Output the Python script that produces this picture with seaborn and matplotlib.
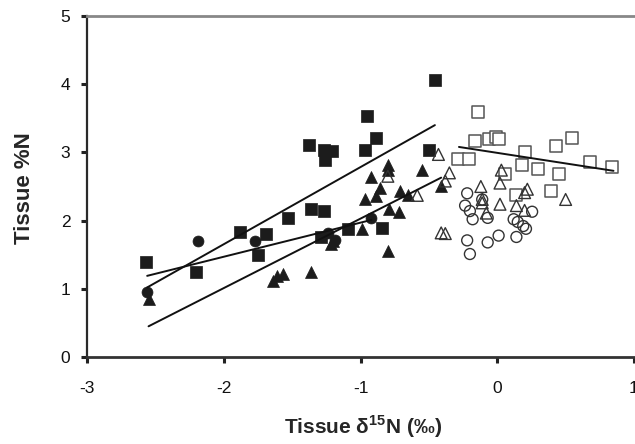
import matplotlib
matplotlib.use("Agg")
import matplotlib.pyplot as plt
import seaborn as sns
import pandas as pd

# Filled squares
sq_x = [-2.57, -2.20, -1.88, -1.75, -1.69, -1.53, -1.375, -1.365, -1.27, -1.27,
        -1.21, -1.26, -1.29, -1.09, -0.95, -0.965, -0.885, -0.84, -0.50, -0.456]
sq_y = [1.40, 1.25, 1.84, 1.50, 1.80, 2.04, 3.11, 2.17, 2.14, 3.04,
        3.02, 2.89, 1.76, 1.87, 3.54, 3.04, 3.21, 1.89, 3.03, 4.06]

# Filled triangles
tri_x = [-2.55, -1.64, -1.61, -1.57, -1.365, -1.215, -1.20, -0.99, -0.97, -0.80,
         -0.80, -0.92, -0.55, -0.855, -0.89, -0.71, -0.65, -0.79, -0.72, -0.41, -0.80]
tri_y = [0.85, 1.11, 1.19, 1.22, 1.24, 1.65, 1.70, 1.87, 2.32, 2.81,
         2.74, 2.64, 2.74, 2.48, 2.36, 2.43, 2.38, 2.17, 2.13, 2.51, 1.56]

# Filled circles
cir_x = [-2.56, -2.19, -1.77, -1.235, -1.19, -0.92]
cir_y = [0.95, 1.70, 1.70, 1.82, 1.72, 2.04]

# Open squares
osq_x = [-0.14, -0.16, -0.06, -0.01, 0.01, -0.29, -0.21, 0.06, 0.20, 0.18,
         0.30, 0.43, 0.55, 0.45, 0.39, 0.14, 0.68, 0.84]
osq_y = [3.59, 3.17, 3.20, 3.23, 3.19, 2.90, 2.90, 2.68, 3.00, 2.81,
         2.76, 3.09, 3.21, 2.68, 2.44, 2.37, 2.86, 2.78]

# Open triangles
otri_x = [-0.80, -0.585, -0.43, -0.35, -0.38, -0.41, -0.38, 0.03, 0.02, -0.12,
          0.22, 0.20, -0.11, -0.11, 0.02, -0.08, 0.14, 0.20, 0.50]
otri_y = [2.65, 2.37, 2.97, 2.70, 2.58, 1.82, 1.81, 2.74, 2.55, 2.50,
          2.46, 2.41, 2.31, 2.26, 2.24, 2.11, 2.22, 2.15, 2.31]

# Open circles
ocir_x = [-0.22, -0.235, -0.20, -0.18, -0.11, -0.07, 0.12, 0.15, 0.21, 0.19,
          0.255, 0.14, 0.01, -0.07, -0.22, -0.20]
ocir_y = [2.40, 2.22, 2.14, 2.02, 2.31, 2.04, 2.02, 1.98, 1.88, 1.92,
          2.13, 1.76, 1.78, 1.68, 1.71, 1.51]

# Fitted regression lines (end points)
fit_sq_x, fit_sq_y = [-2.56, -0.456], [1.02, 3.40]
fit_tri_x, fit_tri_y = [-2.55, -0.41], [0.45, 2.63]
fit_cir_x, fit_cir_y = [-2.56, -0.92], [1.19, 2.01]
fit_osq_x, fit_osq_y = [-0.28, 0.85], [3.08, 2.73]

x_ticks = [-3, -2, -1, 0, 1]
y_ticks = [0, 1, 2, 3, 4, 5]

sns.set_style("ticks")
plt.rcParams["font.family"] = ["Liberation Sans", "DejaVu Sans"]
plt.rcParams["mathtext.fontset"] = "custom"
plt.rcParams["mathtext.rm"] = "Liberation Sans"
plt.rcParams["mathtext.bf"] = "Liberation Sans:bold"

fig = plt.figure(figsize=(6.35, 4.44), dpi=100)
ax = fig.add_axes([87 / 635, 1 - 357 / 444, 547 / 635, 341 / 444])

dark = "#1c1c1c"
groups = [
    (sq_x, sq_y, "s", dark, dark, 66, 0.5),
    (tri_x, tri_y, "^", dark, dark, 74, 0.5),
    (cir_x, cir_y, "o", dark, dark, 62, 0.5),
    (osq_x, osq_y, "s", "white", "#555555", 64, 1.1),
    (otri_x, otri_y, "^", "none", "#333333", 72, 1.0),
    (ocir_x, ocir_y, "o", "none", "#333333", 62, 1.0),
]
for gx, gy, mk, fc, ec, size, lw in groups:
    df = pd.DataFrame({"x": gx, "y": gy})
    sns.scatterplot(data=df, x="x", y="y", marker=mk, s=size, color=fc,
                    edgecolor=ec, linewidth=lw, ax=ax, zorder=3, legend=False)

for fx, fy in [(fit_sq_x, fit_sq_y), (fit_tri_x, fit_tri_y),
               (fit_cir_x, fit_cir_y), (fit_osq_x, fit_osq_y)]:
    sns.lineplot(x=fx, y=fy, color="#111111", linewidth=1.4, ax=ax,
                 zorder=4, estimator=None, sort=False)

ax.set_xlim(-3, 1)
ax.set_ylim(0, 5)
ax.set_xticks(x_ticks)
ax.set_yticks(y_ticks)
ax.set_xticklabels([str(t) for t in x_ticks])
ax.set_yticklabels([str(t) for t in y_ticks])

ax.spines["right"].set_visible(False)
ax.spines["top"].set_color("#888888")
ax.spines["top"].set_linewidth(2.0)
ax.spines["left"].set_color("#2a2a2a")
ax.spines["left"].set_linewidth(1.6)
ax.spines["bottom"].set_color("#333333")
ax.spines["bottom"].set_linewidth(2.0)

ax.tick_params(axis="both", direction="out", length=4, width=2.2,
               color="#222222", labelsize=12.5, labelcolor="#111111")
ax.tick_params(axis="x", pad=13)
ax.tick_params(axis="y", pad=8)

ax.set_xlabel(r"Tissue δ$^{\mathbf{15}}$N (‰)", fontsize=15, fontweight="bold")
ax.set_ylabel("Tissue %N", fontsize=16, fontweight="bold")
ax.xaxis.set_label_coords(0.505, -0.165)
ax.yaxis.set_label_coords(-0.095, 0.495)

fig.savefig("out.png", dpi=100)
